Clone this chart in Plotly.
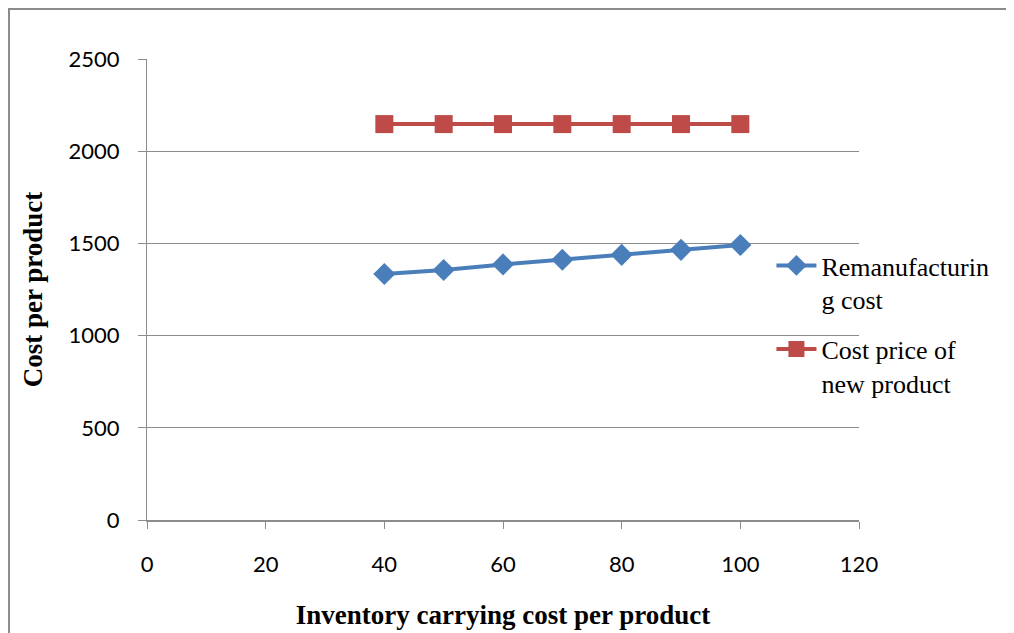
import plotly.graph_objects as go

x_vals = [40, 50, 60, 70, 80, 90, 100]
reman_cost = [1334, 1356, 1386, 1411, 1438, 1465, 1491]
new_price = [2147, 2147, 2147, 2147, 2147, 2147, 2147]
series_names = ["Remanufacturin<br>g cost", "Cost price of<br>new product"]
x_ticks = [0, 20, 40, 60, 80, 100, 120]
y_ticks = [0, 500, 1000, 1500, 2000, 2500]

fig = go.Figure()
fig.add_trace(go.Scatter(
    x=x_vals, y=reman_cost, mode="lines+markers", name=series_names[0],
    legendgroup="g1",
    line=dict(color="#4A7EBB", width=4),
    marker=dict(symbol="diamond", size=17, color="#4A7EBB"),
))
fig.add_trace(go.Scatter(
    x=x_vals, y=new_price, mode="lines+markers", name=series_names[1],
    legendgroup="g2",
    line=dict(color="#BE4B48", width=4),
    marker=dict(symbol="square", size=18, color="#BE4B48"),
))

axis_col = "#8c8c8c"
L, T, PW, PH = 139, 51, 712, 461
fig.update_layout(
    width=1014, height=633,
    margin=dict(l=L, r=1014 - L - PW, t=T, b=633 - T - PH),
    paper_bgcolor="white", plot_bgcolor="white",
    showlegend=True,
    legend=dict(
        x=0.877, xanchor="left", y=0.603, yanchor="top", valign="top",
        bgcolor="rgba(0,0,0,0)", traceorder="grouped", tracegroupgap=13,
        font=dict(family="Liberation Serif", size=26, color="black"),
        itemwidth=40,
    ),
    xaxis=dict(
        range=[0, 120], tickvals=x_ticks, showgrid=False, zeroline=False,
        showline=True, linecolor=axis_col, linewidth=2,
        ticks="outside", ticklen=7, tickcolor=axis_col, tickwidth=1,
        ticklabelstandoff=17,
        tickfont=dict(family="Lato", size=22, color="black"),
        title=dict(text="<b>Inventory carrying cost per product</b>",
                   font=dict(family="Liberation Serif", size=27, color="black"),
                   standoff=29),
    ),
    yaxis=dict(
        range=[0, 2500], tickvals=y_ticks, showgrid=True, gridcolor=axis_col,
        gridwidth=1.3, zeroline=False,
        showline=True, linecolor=axis_col, linewidth=1.3,
        ticks="outside", ticklen=8, tickcolor=axis_col,
        ticklabelstandoff=14,
        tickfont=dict(family="Lato", size=22, color="black"),
        title=dict(text="<b>Cost per product</b>",
                   font=dict(family="Liberation Serif", size=27, color="black"),
                   standoff=17),
    ),
)

fig.add_shape(type="rect", xref="paper", yref="paper",
              x0=(-L + 1) / PW, x1=1.3, y0=-0.4, y1=1 + (T - 1) / PH,
              line=dict(color="#8c8c8c", width=2), fillcolor="rgba(0,0,0,0)",
              layer="below")

fig.write_html("out.html")
